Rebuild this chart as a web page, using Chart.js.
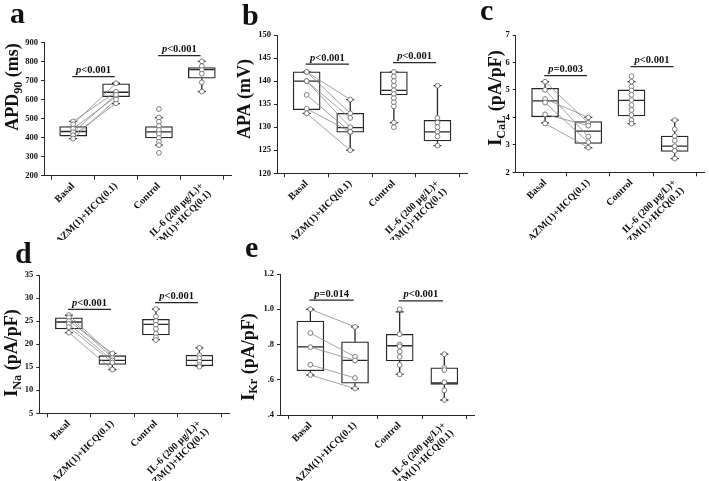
<!DOCTYPE html>
<html>
<head>
<meta charset="utf-8">
<script src="https://cdn.jsdelivr.net/npm/chart.js@4.4.1/dist/chart.umd.min.js"></script>
<style>
  body { margin: 0; background: #fff; }
  #wrap { position: relative; width: 709px; height: 481px; overflow: hidden; }
  canvas { position: absolute; }
</style>
</head>
<body>
<div id="wrap">
  <canvas id="pa" width="236" height="240" style="left:0;top:0"></canvas>
  <canvas id="pb" width="240" height="240" style="left:232px;top:0"></canvas>
  <canvas id="pc" width="237" height="240" style="left:472px;top:0"></canvas>
  <canvas id="pd" width="236" height="241" style="left:0;top:240px"></canvas>
  <canvas id="pe" width="240" height="241" style="left:240px;top:240px"></canvas>
</div>
<script>
var groupLabels = ['Basal', 'AZM(1)+HCQ(0.1)', 'Control', ['IL-6 (200 \u00b5g/L)+', 'AZM(1)+HCQ(0.1)']];

// a - APD90 (ms)
var apdBasal = [485, 470, 447, 428, 412, 395];
var apdAzm = [640, 685, 615, 625, 580, 600];
var apdControl = [550, 505, 483, 461, 440, 419, 398, 378, 360, 320];
var apdIl6 = [800, 775, 755, 735, 690, 641];
var apdBox = [[395, 408, 432, 458, 485], [578, 615, 638, 682, 685], [360, 398, 430, 458, 505], [641, 712, 757, 767, 800]];
var apdTicks = [200, 900, 100];
var apdSig = [720, 830];

// b - APA (mV)
var apaBasal = [142, 142, 140, 140, 137, 134, 133];
var apaAzm = [136, 133, 132, 130, 129, 129, 125];
var apaControl = [142, 141, 140, 139, 138, 137.2, 136.3, 135.4, 134.5, 131, 130];
var apaIl6 = [139, 132, 131, 130, 129, 128, 126];
var apaBox = [[133, 133.8, 140, 142, 142], [125, 128.9, 129.9, 133, 136], [131, 137, 138, 142, 142], [126, 127, 129, 131.5, 139]];
var apaTicks = [120, 150, 5];
var apaSig = [143.7, 144];

// c - ICaL (pA/pF)
var calBasal = [5.3, 5.0, 4.67, 4.54, 4.11, 3.78];
var calAzm = [3.8, 3.3, 4.0, 3.1, 3.7, 2.9];
var calControl = [5.5, 5.3, 5.12, 4.98, 4.82, 4.63, 4.45, 4.27, 4.09, 3.9, 3.77];
var calIl6 = [3.9, 3.57, 3.32, 3.15, 2.95, 2.78, 2.5];
var calBox = [[3.8, 4.02, 4.6, 5.06, 5.3], [2.9, 3.05, 3.5, 3.85, 4.0], [3.77, 4.05, 4.62, 5.0, 5.3], [2.5, 2.76, 2.95, 3.32, 3.9]];
var calTicks = [2, 7, 1];
var calSig = [5.52, 5.85];

// d - INa (pA/pF)
var naBasal = [26.3, 25.8, 25.0, 24.4, 23.7, 22.5];
var naAzm = [17.5, 17.0, 18.0, 16.5, 16.0, 14.5];
var naControl = [27.6, 26.0, 25.0, 24.2, 23.3, 22.3, 21.5, 20.9];
var naIl6 = [19.2, 17.6, 17.0, 16.2, 15.5, 15.1];
var naBox = [[22.5, 23.3, 24.8, 25.7, 26.3], [14.5, 15.6, 16.5, 17.5, 18.0], [21.0, 22.0, 24.3, 25.4, 27.6], [15.2, 15.3, 16.5, 17.6, 19.2]];
var naTicks = [5, 35, 5];
var naSig = [27.56, 29.0];

// e - IKr (pA/pF)
var krBasal = [1.0, 0.865, 0.785, 0.685, 0.627];
var krAzm = [0.90, 0.73, 0.71, 0.61, 0.55];
var krControl = [1.0, 0.858, 0.80, 0.79, 0.76, 0.73, 0.684, 0.63];
var krIl6 = [0.745, 0.668, 0.655, 0.586, 0.54, 0.485];
var krBox = [[0.627, 0.651, 0.786, 0.933, 1.0], [0.55, 0.58, 0.71, 0.815, 0.90], [0.63, 0.707, 0.793, 0.858, 0.985], [0.485, 0.574, 0.582, 0.668, 0.745]];
var krTicks = [0.4, 1.2, 0.2];
var krSig = [1.052, 1.047];

var DARK = '#262626';
var SERIF = '"Liberation Serif", "Times New Roman", serif';
var BOX_W = 27;

function drawRich(ctx, parts, x, y, size, align) {
    var total = 0;
    parts.forEach(function (p) {
        var s = p.sub ? size * 0.68 : size;
        ctx.font = (p.italic ? 'italic ' : '') + 'bold ' + s + 'px ' + SERIF;
        p.w = ctx.measureText(p.t).width;
        total += p.w;
    });
    var cx = align === 'center' ? x - total / 2 : x;
    parts.forEach(function (p) {
        var s = p.sub ? size * 0.68 : size;
        ctx.font = (p.italic ? 'italic ' : '') + 'bold ' + s + 'px ' + SERIF;
        ctx.fillText(p.t, cx, y + (p.sub ? size * 0.22 : 0));
        cx += p.w;
    });
}

var boxParts = {
    id: 'boxParts',
    afterDatasetDraw: function (chart, args, opts) {
        if (args.index !== 0) return;
        var xs = chart.scales.x, ys = chart.scales.y, ctx = chart.ctx;
        ctx.save();
        ctx.strokeStyle = DARK;
        ctx.lineWidth = 1.3;
        opts.stats.forEach(function (s, i) {
            var cx = xs.getPixelForValue(i);
            var h = BOX_W / 2 - 1;
            ctx.beginPath();
            ctx.moveTo(cx - h, ys.getPixelForValue(s[2]));
            ctx.lineTo(cx + h, ys.getPixelForValue(s[2]));
            ctx.moveTo(cx, ys.getPixelForValue(s[3]));
            ctx.lineTo(cx, ys.getPixelForValue(s[4]));
            ctx.moveTo(cx, ys.getPixelForValue(s[1]));
            ctx.lineTo(cx, ys.getPixelForValue(s[0]));
            ctx.moveTo(cx - 4, ys.getPixelForValue(s[4]));
            ctx.lineTo(cx + 4, ys.getPixelForValue(s[4]));
            ctx.moveTo(cx - 4, ys.getPixelForValue(s[0]));
            ctx.lineTo(cx + 4, ys.getPixelForValue(s[0]));
            ctx.stroke();
        });
        ctx.restore();
    }
};

var annotations = {
    id: 'annotations',
    afterDraw: function (chart, args, opts) {
        var xs = chart.scales.x, ys = chart.scales.y, ctx = chart.ctx;
        ctx.save();
        ctx.fillStyle = '#111';
        ctx.strokeStyle = DARK;
        ctx.lineWidth = 1.2;
        opts.sig.forEach(function (v, k) {
            var i = k * 2;
            var x0 = xs.getPixelForValue(i - 0.02), x1 = xs.getPixelForValue(i + 0.97);
            var py = ys.getPixelForValue(v);
            ctx.beginPath();
            ctx.moveTo(x0, py);
            ctx.lineTo(x1, py);
            ctx.stroke();
            ctx.textBaseline = 'alphabetic';
            drawRich(ctx, [{ t: 'p', italic: true }, { t: opts.pText[k] }], (x0 + x1) / 2, py - 3.5, 10.5, 'center');
        });
        // axis title
        ctx.save();
        ctx.translate(opts.titlePos[0], opts.titlePos[1]);
        ctx.rotate(-Math.PI / 2);
        drawRich(ctx, opts.title, 0, 0, 18, 'center');
        ctx.restore();
        // panel letter
        ctx.font = 'bold 30px ' + SERIF;
        ctx.fillText(opts.letter, opts.letterPos[0], opts.letterPos[1]);
        ctx.restore();
    }
};

function buildDatasets(basal, azm, control, il6, box) {
    var datasets = [];
    datasets.push({
        type: 'bar',
        data: box.map(function (s, i) { return { x: i, y: [s[1], s[3]] }; }),
        backgroundColor: '#fff',
        borderColor: DARK,
        borderWidth: 1.3,
        borderSkipped: false,
        barThickness: BOX_W,
        order: 3
    });
    for (var k = 0; k < basal.length; k++) {
        datasets.push({
            type: 'line',
            data: [{ x: 0, y: basal[k] }, { x: 1, y: azm[k] }],
            borderColor: '#8c8c8c',
            borderWidth: 0.8,
            pointRadius: 0,
            order: 2
        });
    }
    [basal, azm, control, il6].forEach(function (vals, i) {
        datasets.push({
            type: 'line',
            showLine: false,
            data: vals.map(function (v) { return { x: i, y: v }; }),
            pointRadius: 2.4,
            pointBackgroundColor: '#fff',
            pointBorderColor: '#707070',
            pointBorderWidth: 0.9,
            order: 1
        });
    });
    return datasets;
}

function makePanel(id, p) {
    return new Chart(document.getElementById(id), {
        type: 'bar',
        data: { datasets: buildDatasets(p.basal, p.azm, p.control, p.il6, p.box) },
        plugins: [boxParts, annotations],
        options: {
            responsive: false,
            animation: false,
            events: [],
            layout: { padding: { left: 0, top: p.top, right: p.right, bottom: 0 } },
            scales: {
                x: {
                    type: 'linear',
                    offset: false,
                    min: -0.68,
                    max: 3.68,
                    afterBuildTicks: function (scale) {
                        scale.ticks = [0, 1, 2, 3].map(function (v) { return { value: v }; });
                    },
                    afterFit: function (scale) { scale.height = p.xHeight; },
                    grid: { drawOnChartArea: false, drawTicks: true, tickLength: 4, color: DARK },
                    border: { color: DARK, width: 1 },
                    ticks: {
                        autoSkip: false,
                        minRotation: 45,
                        maxRotation: 45,
                        padding: 1,
                        color: '#111',
                        font: { family: SERIF, size: 10, weight: 'bold', lineHeight: 1.1 },
                        callback: function (v) { return groupLabels[v]; }
                    }
                },
                y: {
                    min: p.ticks[0],
                    max: p.ticks[1],
                    afterFit: function (scale) { scale.width = p.yWidth; },
                    grid: { drawOnChartArea: false, drawTicks: true, tickLength: 3, color: DARK },
                    border: { color: DARK, width: 1 },
                    ticks: {
                        stepSize: p.ticks[2],
                        padding: 3,
                        color: '#111',
                        font: { family: SERIF, size: 8.5, weight: 'bold' },
                        callback: p.tickFormat || function (v) { return v; }
                    }
                }
            },
            plugins: {
                legend: { display: false },
                tooltip: { enabled: false },
                boxParts: { stats: p.box },
                annotations: {
                    sig: p.sig,
                    pText: p.pText,
                    title: p.title,
                    titlePos: p.titlePos,
                    letter: p.letter,
                    letterPos: p.letterPos
                }
            }
        }
    });
}

makePanel('pa', {
    basal: apdBasal, azm: apdAzm, control: apdControl, il6: apdIl6, box: apdBox,
    ticks: apdTicks, sig: apdSig, pText: ['<0.001', '<0.001'],
    title: [{ t: 'APD' }, { t: '90', sub: true }, { t: ' (ms)' }], titlePos: [18, 87],
    letter: 'a', letterPos: [10, 23],
    top: 42.3, right: 5, yWidth: 44, xHeight: 64.3
});

makePanel('pb', {
    basal: apaBasal, azm: apaAzm, control: apaControl, il6: apaIl6, box: apaBox,
    ticks: apaTicks, sig: apaSig, pText: ['<0.001', '<0.001'],
    title: [{ t: 'APA (mV)' }], titlePos: [18, 99],
    letter: 'b', letterPos: [10, 25],
    top: 35, right: 2, yWidth: 45, xHeight: 66.7
});

makePanel('pc', {
    basal: calBasal, azm: calAzm, control: calControl, il6: calIl6, box: calBox,
    ticks: calTicks, sig: calSig, pText: ['=0.003', '<0.001'],
    title: [{ t: 'I' }, { t: 'CaL', sub: true }, { t: ' (pA/pF)' }], titlePos: [29, 98],
    letter: 'c', letterPos: [8, 20],
    top: 35, right: 2, yWidth: 43.7, xHeight: 67.7
});

makePanel('pd', {
    basal: naBasal, azm: naAzm, control: naControl, il6: naIl6, box: naBox,
    ticks: naTicks, sig: naSig, pText: ['<0.001', '<0.001'],
    title: [{ t: 'I' }, { t: 'Na', sub: true }, { t: ' (pA/pF)' }], titlePos: [17, 113],
    letter: 'd', letterPos: [15, 23],
    top: 35, right: 7, yWidth: 39.3, xHeight: 67.7
});

makePanel('pe', {
    basal: krBasal, azm: krAzm, control: krControl, il6: krIl6, box: krBox,
    ticks: krTicks, sig: krSig, pText: ['=0.014', '<0.001'],
    title: [{ t: 'I' }, { t: 'Kr', sub: true }, { t: ' (pA/pF)' }], titlePos: [13.5, 117],
    letter: 'e', letterPos: [5, 17],
    top: 34, right: 5.3, yWidth: 40, xHeight: 66,
    tickFormat: function (v) {
        var r = Math.round(v * 10) / 10;
        return r >= 1 ? r.toFixed(1) : r.toFixed(1).slice(1);
    }
});
</script>
</body>
</html>
